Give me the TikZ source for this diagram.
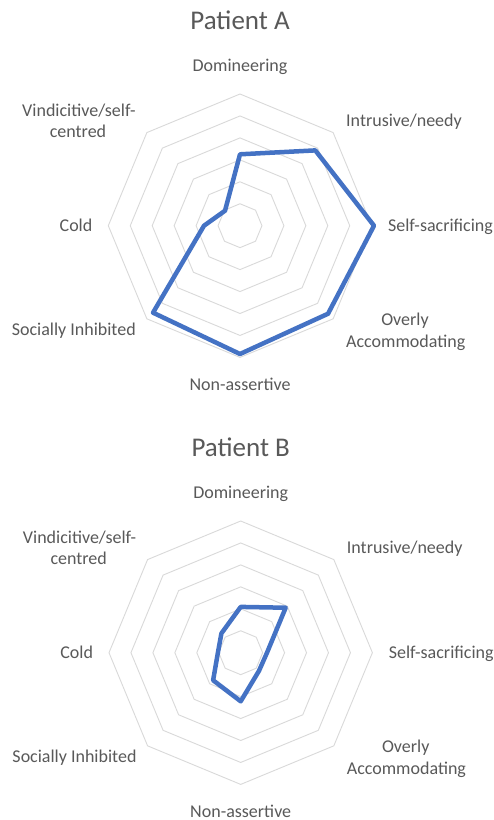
\documentclass[tikz,border=0pt]{standalone}
\usepackage{fontspec}
\setmainfont{Carlito}
\definecolor{gridgray}{HTML}{D9D9D9}
\definecolor{labelgray}{HTML}{595959}
\definecolor{seriesblue}{HTML}{4472C4}
\tikzset{
  ring/.style={draw=gridgray, line width=0.9bp},
  series/.style={draw=seriesblue, line width=4.5bp, line join=round},
  axislabel/.style={text=labelgray, font=\fontsize{18bp}{21.7bp}\selectfont, inner sep=0pt, anchor=base},
  charttitle/.style={text=labelgray, font=\fontsize{27bp}{32bp}\selectfont, inner sep=0pt, anchor=base},
}

% #1 name prefix, #2 chart centre, #3 title,
% #4 radii of the eight values, clockwise from Domineering
\newcommand{\radarchart}[4]{%
  \begin{scope}[shift={#2}]
    \node[charttitle] (#1title) at (0,-196.4) {#3};
    \node[axislabel] (#1dom)  at (0,-154)      {Domineering};
    \node[axislabel] (#1intr) at (164,-99)     {Intrusive/needy};
    \node[axislabel] (#1self) at (200.5,5.3)   {Self-sacrificing};
    \node[axislabel] (#1overa) at (165,99.3)   {Overly};
    \node[axislabel] (#1overb) at (165.7,122)  {Accommodating};
    \node[axislabel] (#1nona) at (0,165)       {Non-assertive};
    \node[axislabel] (#1soc)  at (-166.2,109.3){Socially Inhibited};
    \node[axislabel] (#1cold) at (-164,5.3)    {Cold};
    \node[axislabel] (#1vina) at (-161.1,-109.7){Vindicitive/self-};
    \node[axislabel] (#1vinb) at (-162,-88)    {centred};
    \begin{scope}[yscale=-1]
      % six concentric octagonal grid rings
      \foreach \k in {1,...,6}{
        \draw[ring] (0:\k*21.95) -- (45:\k*21.95) -- (90:\k*21.95) -- (135:\k*21.95)
          -- (180:\k*21.95) -- (225:\k*21.95) -- (270:\k*21.95) -- (315:\k*21.95) -- cycle;
      }
      % data points of the series
      \foreach \r [count=\i] in {#4}{
        \coordinate (#1v\i) at ({90-45*(\i-1)}:\r);
      }
      \draw[series] (#1v1) -- (#1v2) -- (#1v3) -- (#1v4) -- (#1v5) -- (#1v6) -- (#1v7) -- (#1v8) -- cycle;
    \end{scope}
  \end{scope}%
}

\begin{document}
\begin{tikzpicture}[x=1bp,y=-1bp]
  \useasboundingbox[fill=white] (0,0) rectangle (494,820);
  \radarchart{a}{(240,225.7)}{Patient A}{71.4,106.5,134,124.5,128.3,123,36,21.2}
  \radarchart{b}{(240.7,652.7)}{Patient B}{45.8,63.6,26.3,25.8,48.6,39,22.8,27.3}
\end{tikzpicture}
\end{document}
